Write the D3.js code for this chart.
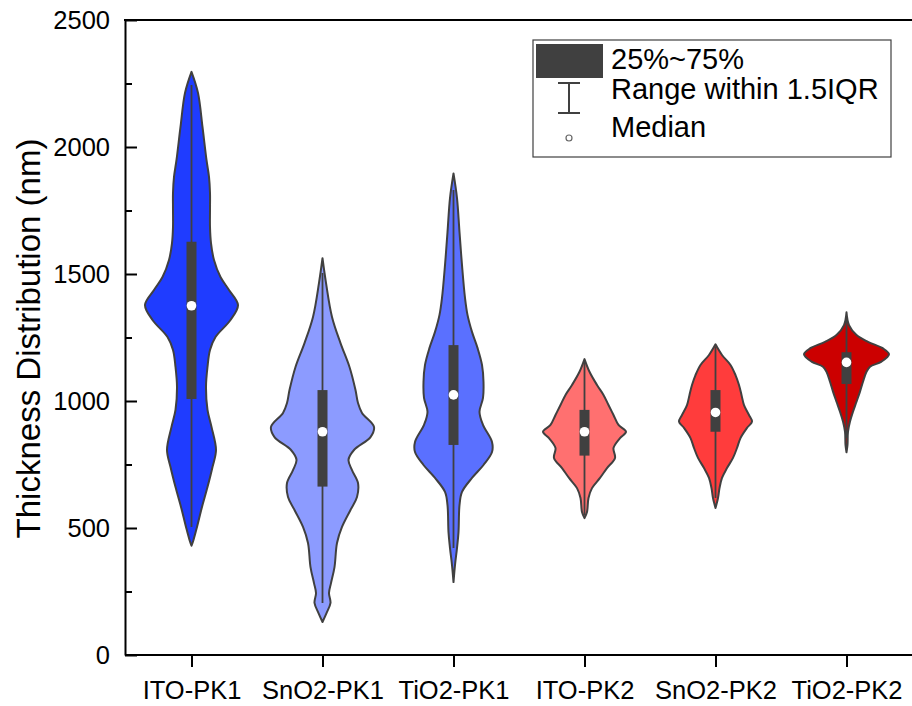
<!DOCTYPE html>
<html>
<head>
<meta charset="utf-8">
<script src="https://cdn.jsdelivr.net/npm/d3@7"></script>
<style>
  html, body { margin: 0; padding: 0; background: #fff; }
  svg { display: block; font-family: "Liberation Sans", Arial, sans-serif; }
</style>
</head>
<body>
<svg id="chart" width="912" height="706"></svg>
<script>
// ---------------- data ----------------
const categories = ["ITO-PK1", "SnO2-PK1", "TiO2-PK1", "ITO-PK2", "SnO2-PK2", "TiO2-PK2"];
const fillColors = ["#1f3cff", "#8c9bff", "#5a70ff", "#ff7070", "#ff3c3c", "#cc0000"];

const q1Values      = [1008, 663, 827, 785, 879, 1067];
const medianValues  = [1375, 879, 1024, 879, 955, 1152];
const q3Values      = [1627, 1043, 1220, 965, 1043, 1192];
const whiskerLow    = [504, 205, 421, 551, 618, 854];
const whiskerHigh   = [2244, 1504, 1831, 1154, 1214, 1327];

const yTickValues = [0, 500, 1000, 1500, 2000, 2500];
const yMinorTicks = [250, 750, 1250, 1750, 2250];

// kernel density profiles: [thickness (nm), relative density]
const itoPk1Density = [[2296,0],[2213,.13],[2079,.22],[1949,.30],[1882,.35],[1819,.37],[1752,.37],[1685,.37],[1622,.39],[1555,.45],[1488,.58],[1437,.75],[1378,.93],[1319,.78],[1252,.48],[1201,.37],[1134,.32],[1055,.29],[965,.32],[898,.40],[807,.49],[740,.42],[661,.32],[583,.21],[504,.11],[453,.04],[430,0]];
const snoPk1Density = [[1562,0],[1465,.07],[1331,.19],[1228,.36],[1134,.54],[1043,.66],[992,.71],[953,.79],[898,1.03],[858,.96],[807,.63],[768,.52],[728,.59],[677,.71],[622,.69],[571,.56],[504,.39],[441,.29],[346,.24],[283,.17],[244,.13],[205,.16],[165,.08],[130,0]];
const tioPk1Density = [[1896,0],[1799,.07],[1665,.12],[1535,.17],[1406,.23],[1339,.28],[1272,.37],[1209,.48],[1142,.57],[1075,.60],[1012,.59],[957,.52],[906,.59],[839,.77],[799,.77],[748,.60],[697,.37],[642,.17],[590,.12],[484,.10],[421,.07],[354,.03],[287,0]];
const itoPk2Density = [[1165,0],[1115,.10],[1063,.25],[1024,.38],[984,.48],[945,.58],[906,.68],[879,.83],[854,.71],[815,.58],[776,.61],[736,.45],[697,.31],[657,.15],[618,.08],[563,.05],[539,0]];
const snoPk2Density = [[1223,0],[1181,.13],[1142,.30],[1102,.40],[1063,.47],[1024,.52],[984,.57],[945,.67],[919,.73],[894,.63],[854,.50],[815,.43],[776,.35],[736,.23],[697,.13],[657,.08],[618,.05],[579,0]];
const tioPk2Density = [[1349,0],[1299,.05],[1260,.20],[1233,.43],[1207,.73],[1184,.85],[1155,.70],[1135,.47],[1115,.40],[1076,.33],[1037,.27],[997,.20],[958,.13],[919,.07],[879,.03],[827,.02],[798,0]];
const densityProfiles = [itoPk1Density, snoPk1Density, tioPk1Density, itoPk2Density, snoPk2Density, tioPk2Density];

const legendLabels = ["25%~75%", "Range within 1.5IQR", "Median"];

// ---------------- layout ----------------
const svg = d3.select("#chart");
const plotLeft = 125, plotRight = 912, plotTop = 20, plotBottom = 655;
const dark = "#404040";
const fontFamily = "Liberation Sans, Arial, sans-serif";

const y = d3.scaleLinear().domain([0, 2500]).range([plotBottom, plotTop]);
const x = d3.scalePoint().domain(categories).range([plotLeft + 1, plotRight]).padding(0.5);
const w = d3.scaleLinear().domain([0, 1]).range([0, 50]);

// violins
const area = d3.area()
  .curve(d3.curveCatmullRom.alpha(0.5))
  .y(d => y(d[0]));

categories.forEach((cat, i) => {
  const cx = x(cat);
  const g = svg.append("g").attr("class", "violin");
  g.append("path")
    .datum(densityProfiles[i])
    .attr("d", area.x0(d => cx - w(d[1])).x1(d => cx + w(d[1])))
    .attr("fill", fillColors[i])
    .attr("stroke", dark)
    .attr("stroke-width", 2)
    .attr("stroke-linejoin", "round");
  g.append("line")
    .attr("x1", cx).attr("x2", cx)
    .attr("y1", y(whiskerLow[i])).attr("y2", y(whiskerHigh[i]))
    .attr("stroke", dark).attr("stroke-width", 1.8);
  g.append("rect")
    .attr("x", cx - 5).attr("width", 10)
    .attr("y", y(q3Values[i])).attr("height", y(q1Values[i]) - y(q3Values[i]))
    .attr("fill", dark);
  g.append("circle")
    .attr("cx", cx).attr("cy", y(medianValues[i])).attr("r", 4.8)
    .attr("fill", "#fff");
});

// axes
const yAxis = d3.axisLeft(y).tickValues(yTickValues).tickFormat(d3.format("d"))
  .tickSizeInner(-12).tickSizeOuter(0).tickPadding(15);
const gy = svg.append("g").attr("transform", `translate(${plotLeft},0)`).call(yAxis);
gy.selectAll("text").attr("font-size", 25.5).attr("fill", "#000").attr("font-family", fontFamily);
gy.selectAll("line").attr("stroke", "#000").attr("stroke-width", 2);
gy.select(".domain").attr("stroke", "#000").attr("stroke-width", 2);

const yMinor = d3.axisLeft(y).tickValues(yMinorTicks).tickSizeInner(-7).tickSizeOuter(0).tickFormat("");
const gym = svg.append("g").attr("transform", `translate(${plotLeft},0)`).call(yMinor);
gym.select(".domain").remove();
gym.selectAll("line").attr("stroke", "#000").attr("stroke-width", 2);

const xAxis = d3.axisBottom(x).tickSizeInner(12).tickSizeOuter(0).tickPadding(14);
const gx = svg.append("g").attr("transform", `translate(0,${plotBottom})`).call(xAxis);
gx.select(".domain").attr("d", `M${plotLeft},0H${plotRight}`).attr("stroke", "#000").attr("stroke-width", 2);
gx.selectAll("text").attr("font-size", 25.5).attr("fill", "#000").attr("font-family", fontFamily);
gx.selectAll("line").attr("stroke", "#000").attr("stroke-width", 2);

// top frame
svg.append("line")
  .attr("x1", plotLeft - 1).attr("x2", plotRight)
  .attr("y1", plotTop).attr("y2", plotTop)
  .attr("stroke", "#000").attr("stroke-width", 2);

// y label
svg.append("text")
  .attr("transform", `translate(40,${(plotTop + plotBottom) / 2 + 1}) rotate(-90)`)
  .attr("text-anchor", "middle")
  .attr("font-size", 33)
  .attr("fill", "#000")
  .text("Thickness Distribution (nm)");

// legend
const lg = svg.append("g").attr("transform", "translate(533,40)");
lg.append("rect").attr("x", 0).attr("y", 0).attr("width", 358).attr("height", 117)
  .attr("fill", "#fff").attr("stroke", dark).attr("stroke-width", 1.2);
lg.append("rect").attr("x", 3).attr("y", 4).attr("width", 67).attr("height", 34).attr("fill", dark);
const wx = 36;
lg.append("line").attr("x1", wx).attr("x2", wx).attr("y1", 43).attr("y2", 73).attr("stroke", dark).attr("stroke-width", 2);
lg.append("line").attr("x1", wx - 11).attr("x2", wx + 11).attr("y1", 43).attr("y2", 43).attr("stroke", dark).attr("stroke-width", 2);
lg.append("line").attr("x1", wx - 11).attr("x2", wx + 11).attr("y1", 73).attr("y2", 73).attr("stroke", dark).attr("stroke-width", 2);
lg.append("circle").attr("cx", wx).attr("cy", 98).attr("r", 3).attr("fill", "#fff").attr("stroke", "#666").attr("stroke-width", 1.2);
const legendBaselines = [29, 59, 97];
lg.selectAll("text.leg").data(legendLabels).enter().append("text")
  .attr("class", "leg")
  .attr("x", 78)
  .attr("y", (d, i) => legendBaselines[i])
  .attr("font-size", 29)
  .attr("fill", "#000")
  .text(d => d);
</script>
</body>
</html>
